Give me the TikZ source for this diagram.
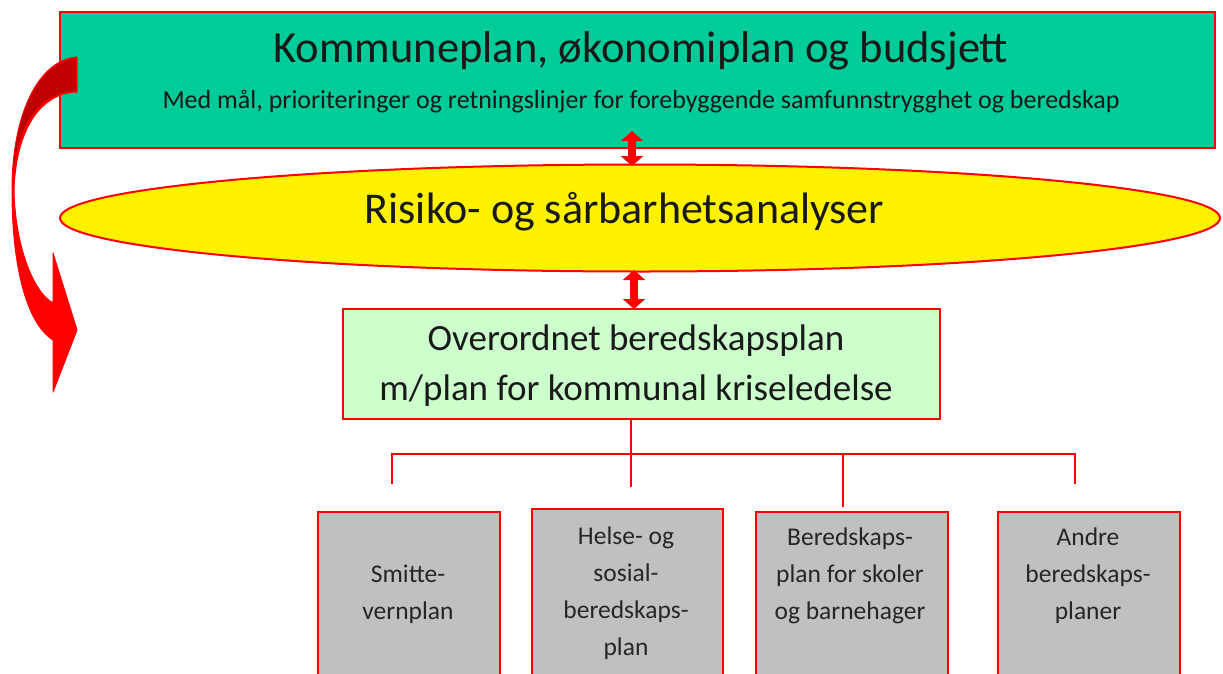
\documentclass[tikz,border=0pt]{standalone}
\usepackage{fontspec}
\setmainfont{Carlito}
\usetikzlibrary{arrows.meta,shapes.geometric,calc}
\definecolor{topgreen}{HTML}{00CC99}
\definecolor{lightgreen}{HTML}{CCFFCC}
\definecolor{boxgray}{HTML}{C0C0C0}
\definecolor{darkred}{HTML}{C00000}
\tikzset{
  redline/.style={draw=red, line width=2pt},
  leafbox/.style={redline, fill=boxgray, anchor=north west, inner sep=0pt},
  leaftext/.style={align=center, font=\fontsize{25.5}{37}\selectfont, text=black!85},
  dblarrow/.style={red, line width=8pt, {Triangle[width=22pt,length=10pt]}-{Triangle[width=22pt,length=10pt]}},
  tree/.style={red, line width=2pt},
}
\begin{document}
\begin{tikzpicture}[x=1pt,y=-1pt]
\clip (0,0) rectangle (1223,673);
\fill[white] (0,0) rectangle (1223,673);
% top box
\node[redline, fill=topgreen, minimum width=1155pt, minimum height=136pt, inner sep=0pt] (top) at (637.5,80) {};
\node[font=\fontsize{44.5}{48}\selectfont, text=black!90] (title) at (641,51) {Kommuneplan, økonomiplan og budsjett};
\node[font=\fontsize{26}{30}\selectfont, text=black!90] (sub) at (641,102) {Med mål, prioriteringer og retningslinjer for forebyggende samfunnstrygghet og beredskap};
% ellipse
\node[ellipse, redline, fill=yellow, minimum width=1160pt, minimum height=107pt, inner sep=0pt] (ell) at (640,218) {};
\node[font=\fontsize{44}{48}\selectfont, text=black!90] (elltext) at (624.5,212) {Risiko- og sårbarhetsanalyser};
% main plan box
\node[redline, fill=lightgreen, minimum width=597pt, minimum height=110pt, inner sep=0pt] (plan) at (641.5,364) {};
\node[font=\fontsize{37}{50}\selectfont, align=center, text=black!90] (plantext) at (636,366) {Overordnet beredskapsplan\\m/plan for kommunal kriseledelse};
% double arrows
\coordinate (a1s) at (632,131);
\coordinate (a1e) at (632,166);
\coordinate (a2s) at (634,270);
\coordinate (a2e) at (634,309);
\draw[dblarrow] (a1s) -- (a1e);
\draw[dblarrow] (a2s) -- (a2e);
% leaf boxes
\node[leafbox, minimum width=182pt, minimum height=190pt] (b1) at (317,511) {};
\node[leafbox, minimum width=191pt, minimum height=190pt] (b2) at (531,508) {};
\node[leafbox, minimum width=192pt, minimum height=190pt] (b3) at (755,511) {};
\node[leafbox, minimum width=182pt, minimum height=190pt] (b4) at (997,511) {};
\node[leaftext] (t1) at (408,594) {Smitte-\\vernplan};
\node[leaftext] (t2) at (626,593) {Helse- og\\sosial-\\beredskaps-\\plan};
\node[leaftext] (t3) at (850,576) {Beredskaps-\\plan for skoler\\og barnehager};
\node[leaftext] (t4) at (1088,576) {Andre\\beredskaps-\\planer};
% tree connectors
\coordinate (hub) at (631,454);
\coordinate (d1) at (392,484);
\coordinate (d2) at (631,487);
\coordinate (d3) at (843,507);
\coordinate (d4) at (1075,484);
\draw[tree] (plan.south -| hub) -- (hub);
\draw[tree] (d1) |- (hub) -| (d4);
\draw[tree] (hub) -- (d2);
\draw[tree] (d3 |- hub) -- (d3);
% curved arrow
\draw[red, line width=1pt, fill=red, line join=round]
  (77,57) .. controls (38,60) and (12,115) .. (12,190)
  .. controls (12,262) and (25,322) .. (53,340) -- (53,392) -- (77,330) -- (53,253) -- (53,303)
  .. controls (33,292) and (15,245) .. (14,190)
  .. controls (16,130) and (40,93) .. (77,92) -- cycle;
\fill[darkred] (76,58.5) .. controls (39,61.5) and (14,115) .. (13.5,175)
  .. controls (17,125) and (40,92) .. (76,90.5) -- cycle;
\end{tikzpicture}
\end{document}
